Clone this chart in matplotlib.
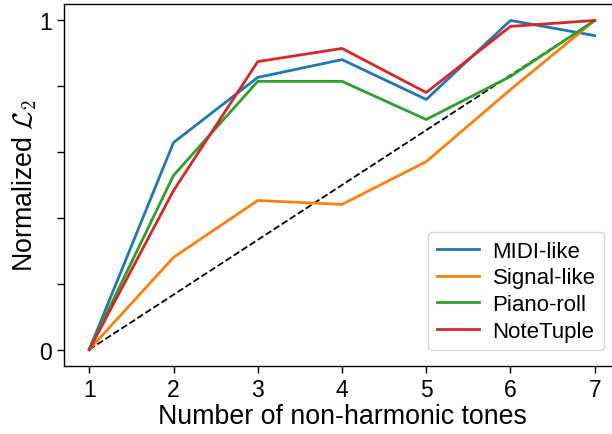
import numpy as np
import matplotlib.pyplot as plt

plt.rcParams['font.family'] = ['Liberation Sans', 'DejaVu Sans']
plt.rcParams['mathtext.fontset'] = 'cm'

# number of non-harmonic tones
x = [1, 2, 3, 4, 5, 6, 7]

midi_like = [0.0, 0.629, 0.827, 0.881, 0.760, 1.0, 0.954]
signal_like = [0.0, 0.280, 0.453, 0.441, 0.571, 0.79, 1.0]
piano_roll = [0.0, 0.529, 0.815, 0.815, 0.699, 0.83, 1.0]
note_tuple = [0.0, 0.483, 0.875, 0.915, 0.781, 0.982, 1.0]

labels = ['MIDI-like', 'Signal-like', 'Piano-roll', 'NoteTuple']
colors = ['#1f77b4', '#ff7f0e', '#2ca02c', '#d62728']

fig = plt.figure(figsize=(6.12, 4.35), dpi=100)
ax = fig.add_axes([64 / 612, 1 - 367 / 435, (620 - 64) / 612, (367 - 5) / 435])

ax.plot([x[0], x[-1]], [0, 1], 'k--', lw=1.3)
for y, lab, c in zip([midi_like, signal_like, piano_roll, note_tuple], labels, colors):
    ax.plot(x, y, color=c, lw=2.0, label=lab)

ax.set_xticks(x)
ax.set_yticks(np.linspace(0, 1, 6))
ax.set_yticklabels(['0', '', '', '', '', '1'])
ax.tick_params(labelsize=16.5, length=5, width=1)
for s in ax.spines.values():
    s.set_linewidth(1)
ax.set_xlabel('Number of non-harmonic tones', fontsize=19.3, labelpad=1.5)
ax.set_ylabel(r'Normalized $\mathcal{L}_2$', fontsize=19.3, labelpad=0)
ax.legend(loc='lower right', fontsize=16, handlelength=1.9,
          borderaxespad=0.7, handletextpad=0.6, labelspacing=0.25)

fig.savefig('out.png', dpi=100)
